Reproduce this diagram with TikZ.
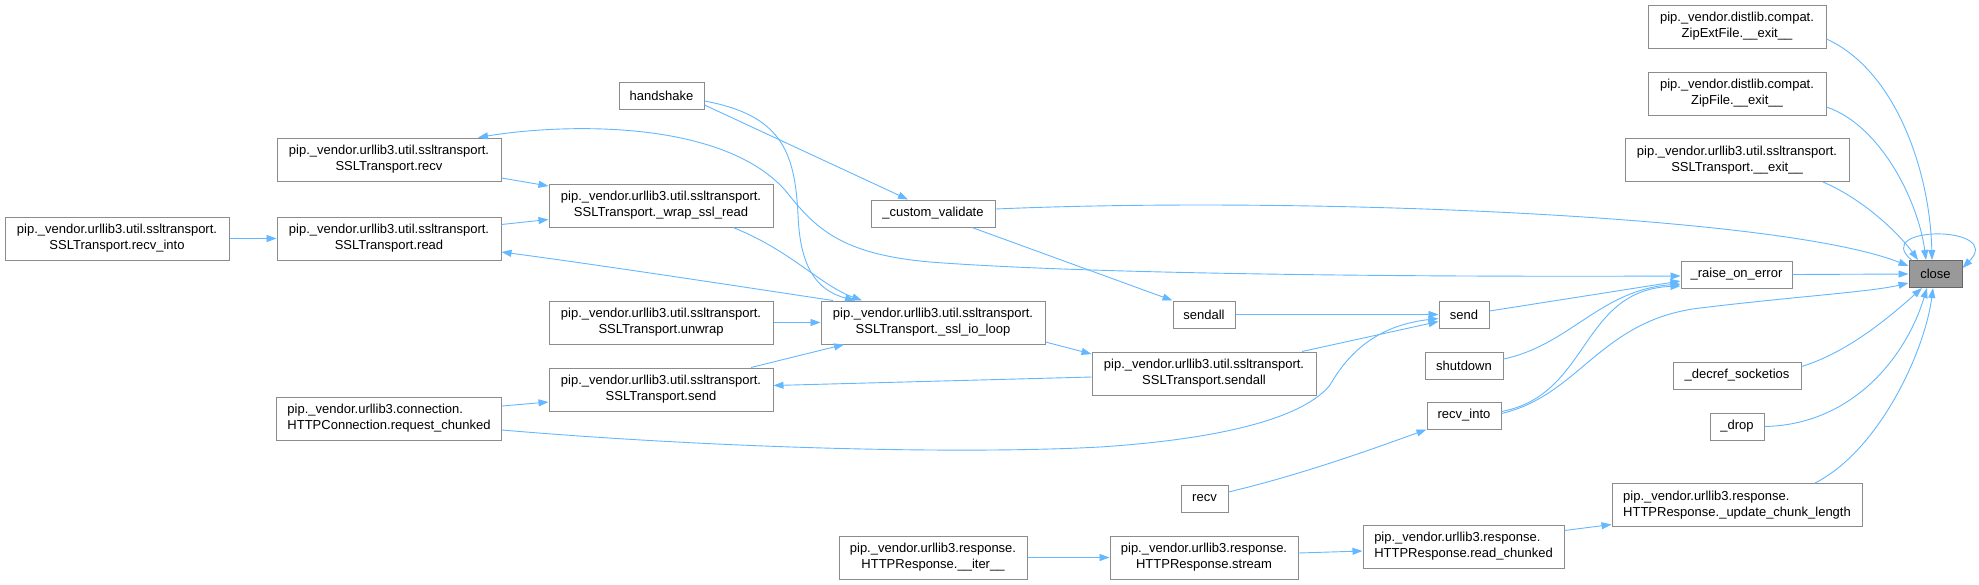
\documentclass[tikz,border=0pt]{standalone}
\usepackage{fontspec}
\setmainfont{Liberation Sans}
\usepackage{tikz}
\usetikzlibrary{arrows.meta,positioning}

\definecolor{edgeblue}{HTML}{63B8FF}
\definecolor{boxline}{HTML}{8C8C8C}
\definecolor{rootfill}{HTML}{999999}
\definecolor{rootline}{HTML}{666666}

\begin{document}
\begin{tikzpicture}[x=1pt, y=-1pt, font=\fontsize{13}{16}\selectfont,
    fn/.style={draw=boxline, line width=1pt, fill=white, rectangle, inner sep=0pt, align=center, minimum height=27pt},
    fntwo/.style={fn, minimum height=43pt},
    root/.style={fn, draw=rootline, fill=rootfill},
    call/.style={draw=edgeblue, line width=0.9pt, ->},
    >={Triangle[length=10pt, width=7pt]}]
    \useasboundingbox[fill=white] (0,0) rectangle (1979,584);

    % the called function
    \node[root, minimum width=53pt] (close) at (1935.5,274) {close};

    % direct callers of close
    \node[fntwo, minimum width=178pt] (zipext) at (1737,26.5) {pip.\_vendor.distlib.compat.\\ZipExtFile.\_\_exit\_\_};
    \node[fntwo, minimum width=178pt] (zipfile) at (1737,93.5) {pip.\_vendor.distlib.compat.\\ZipFile.\_\_exit\_\_};
    \node[fntwo, minimum width=224pt] (sslexit) at (1737,160) {pip.\_vendor.urllib3.util.ssltransport.\\SSLTransport.\_\_exit\_\_};
    \node[fn, minimum width=111pt] (raiseerr) at (1736.5,274.5) {\_raise\_on\_error};
    \node[fn, minimum width=128pt] (decref) at (1737,375.5) {\_decref\_socketios};
    \node[fn, minimum width=54pt] (drop) at (1737,426.5) {\_drop};
    \node[fntwo, minimum width=250pt, align=left] (updchunk) at (1737,505) {pip.\_vendor.urllib3.response.\\HTTPResponse.\_update\_chunk\_length};

    % next column
    \node[fn, minimum width=50pt] (send) at (1464,314.5) {send};
    \node[fn, minimum width=78pt] (shutdown) at (1464,365.5) {shutdown};
    \node[fn, minimum width=74pt] (recvinto) at (1464,415.5) {recv\_into};
    \node[fntwo, minimum width=201pt, align=left] (readchunked) at (1463.5,546.5) {pip.\_vendor.urllib3.response.\\HTTPResponse.read\_chunked};

    \node[fn, minimum width=62pt] (sendall) at (1204,314.5) {sendall};
    \node[fntwo, minimum width=224pt] (sslsendall) at (1204,373.5) {pip.\_vendor.urllib3.util.ssltransport.\\SSLTransport.sendall};
    \node[fn, minimum width=47pt] (recv) at (1204.5,498.5) {recv};
    \node[fntwo, minimum width=188pt] (stream) at (1204,557.5) {pip.\_vendor.urllib3.response.\\HTTPResponse.stream};

    \node[fn, minimum width=124pt] (customval) at (933,213.5) {\_custom\_validate};
    \node[fntwo, minimum width=224pt] (sslioloop) at (933,322.5) {pip.\_vendor.urllib3.util.ssltransport.\\SSLTransport.\_ssl\_io\_loop};
    \node[fntwo, minimum width=188pt] (iter) at (933,557.5) {pip.\_vendor.urllib3.response.\\HTTPResponse.\_\_iter\_\_};

    \node[fn, minimum width=85pt] (handshake) at (661.5,96) {handshake};
    \node[fntwo, minimum width=224pt] (wrapread) at (661,205.5) {pip.\_vendor.urllib3.util.ssltransport.\\SSLTransport.\_wrap\_ssl\_read};
    \node[fntwo, minimum width=224pt] (unwrap) at (661,322.5) {pip.\_vendor.urllib3.util.ssltransport.\\SSLTransport.unwrap};
    \node[fntwo, minimum width=224pt] (sslsend) at (661,389.5) {pip.\_vendor.urllib3.util.ssltransport.\\SSLTransport.send};

    \node[fntwo, minimum width=224pt] (sslrecv) at (389,159.5) {pip.\_vendor.urllib3.util.ssltransport.\\SSLTransport.recv};
    \node[fntwo, minimum width=224pt] (sslread) at (389,238.5) {pip.\_vendor.urllib3.util.ssltransport.\\SSLTransport.read};
    \node[fntwo, minimum width=225pt, align=left] (reqchunked) at (389,418.5) {pip.\_vendor.urllib3.connection.\\HTTPConnection.request\_chunked};

    \node[fntwo, minimum width=224pt] (sslrecvinto) at (117,238.5) {pip.\_vendor.urllib3.util.ssltransport.\\SSLTransport.recv\_into};

    % edges into close
    \draw[call] ([yshift=-12.5pt]zipext.east) .. controls (1895,70) and (1930,170) .. ([xshift=-3.5pt]close.north);
    \draw[call] ([yshift=-13.5pt]zipfile.east) .. controls (1880,125) and (1918,200) .. ([xshift=-9.5pt]close.north);
    \draw[call] ([xshift=86pt]sslexit.south) .. controls (1865,200) and (1900,235) .. ([xshift=-17.5pt]close.north);
    \draw[call] ([yshift=4.5pt]customval.east) .. controls (1300,196) and (1780,215) .. ([yshift=8pt]close.west);
    \draw[call] (raiseerr.east) -- (close.west);
    \draw[call] ([yshift=2pt]recvinto.east) .. controls (1580,395) and (1600,320) .. (1700,308) .. controls (1800,296) and (1870,292) .. ([yshift=-9pt]close.west);
    \draw[call] ([yshift=9pt]decref.east) .. controls (1850,352) and (1895,312) .. ([xshift=-13.5pt]close.south);
    \draw[call] (drop.east) .. controls (1850,425) and (1905,360) .. ([xshift=-8.5pt]close.south);
    \draw[call] ([xshift=78pt]updchunk.north) .. controls (1880,450) and (1925,350) .. ([xshift=-2.5pt]close.south);
    \draw[call] ([xshift=3pt]close.north west) .. controls (1870,225) and (2005,225) .. ([yshift=6pt]close.east);

    % edges into _raise_on_error
    \draw[call] ([yshift=3.5pt]send.east) -- ([yshift=-6.5pt]raiseerr.west);
    \draw[call] ([yshift=6.5pt]shutdown.east) .. controls (1570,345) and (1600,290) .. ([yshift=-9.5pt]raiseerr.west);
    \draw[call] ([yshift=4pt]recvinto.east) .. controls (1590,395) and (1580,290) .. ([yshift=-11.5pt]raiseerr.west);
    \draw[call, <->] ([xshift=89pt]sslrecv.north) .. controls (560,124) and (720,118) .. (785,190) .. controls (815,228) and (840,254) .. (930,262) .. controls (1100,275) and (1450,277) .. ([yshift=-1.5pt]raiseerr.west);

    % edges into send
    \draw[call] (sendall.east) -- (send.west);
    \draw[call] ([xshift=98pt]sslsendall.north) -- ([yshift=-7pt]send.west);
    \draw[call] ([yshift=-11.5pt]reqchunked.east) .. controls (700,447) and (950,455) .. (1100,447) .. controls (1250,437) and (1310,410) .. (1330,385) .. controls (1350,350) and (1380,325) .. ([yshift=-4pt]send.west);

    % socket and ssl transport calls
    \draw[call] ([xshift=39pt]customval.south) -- (sendall.north west);
    \draw[call] ([yshift=-9pt]handshake.east) -- ([xshift=-25pt]customval.north);
    \draw[call] ([yshift=-5pt]handshake.east) .. controls (780,115) and (795,150) .. (798,215) .. controls (800,265) and (815,290) .. ([xshift=-78pt]sslioloop.north);
    \draw[call] ([xshift=72pt]wrapread.south) .. controls (790,250) and (820,285) .. ([xshift=-71pt]sslioloop.north);
    \draw[call] (unwrap.east) -- (sslioloop.west);
    \draw[call] ([xshift=90pt]sslsend.north) -- ([xshift=-89pt]sslioloop.south);
    \draw[call] ([xshift=-100pt]sslioloop.north) .. controls (750,288) and (600,265) .. ([yshift=-13.5pt]sslread.east);
    \draw[call] ([yshift=-19.5pt]sslioloop.east) -- ([yshift=19.5pt]sslsendall.west);
    \draw[call] ([yshift=-3.5pt]sslsendall.west) -- ([yshift=4pt]sslsend.east);
    \draw[call] ([yshift=12.5pt]reqchunked.east) -- ([yshift=-12.5pt]sslsend.west);
    \draw[call] ([yshift=-18.5pt]sslrecv.east) -- ([yshift=19.5pt]wrapread.west);
    \draw[call] ([yshift=14pt]sslread.east) -- ([yshift=-14pt]wrapread.west);
    \draw[call] (sslrecvinto.east) -- (sslread.west);

    % response chain
    \draw[call] ([yshift=6.5pt]recv.east) .. controls (1300,475) and (1370,450) .. (recvinto.south west);
    \draw[call] (iter.east) -- (stream.west);
    \draw[call] ([yshift=4.5pt]stream.east) -- ([yshift=-4.5pt]readchunked.west);
    \draw[call] ([yshift=16pt]readchunked.east) -- ([yshift=-19.5pt]updchunk.west);
\end{tikzpicture}
\end{document}
